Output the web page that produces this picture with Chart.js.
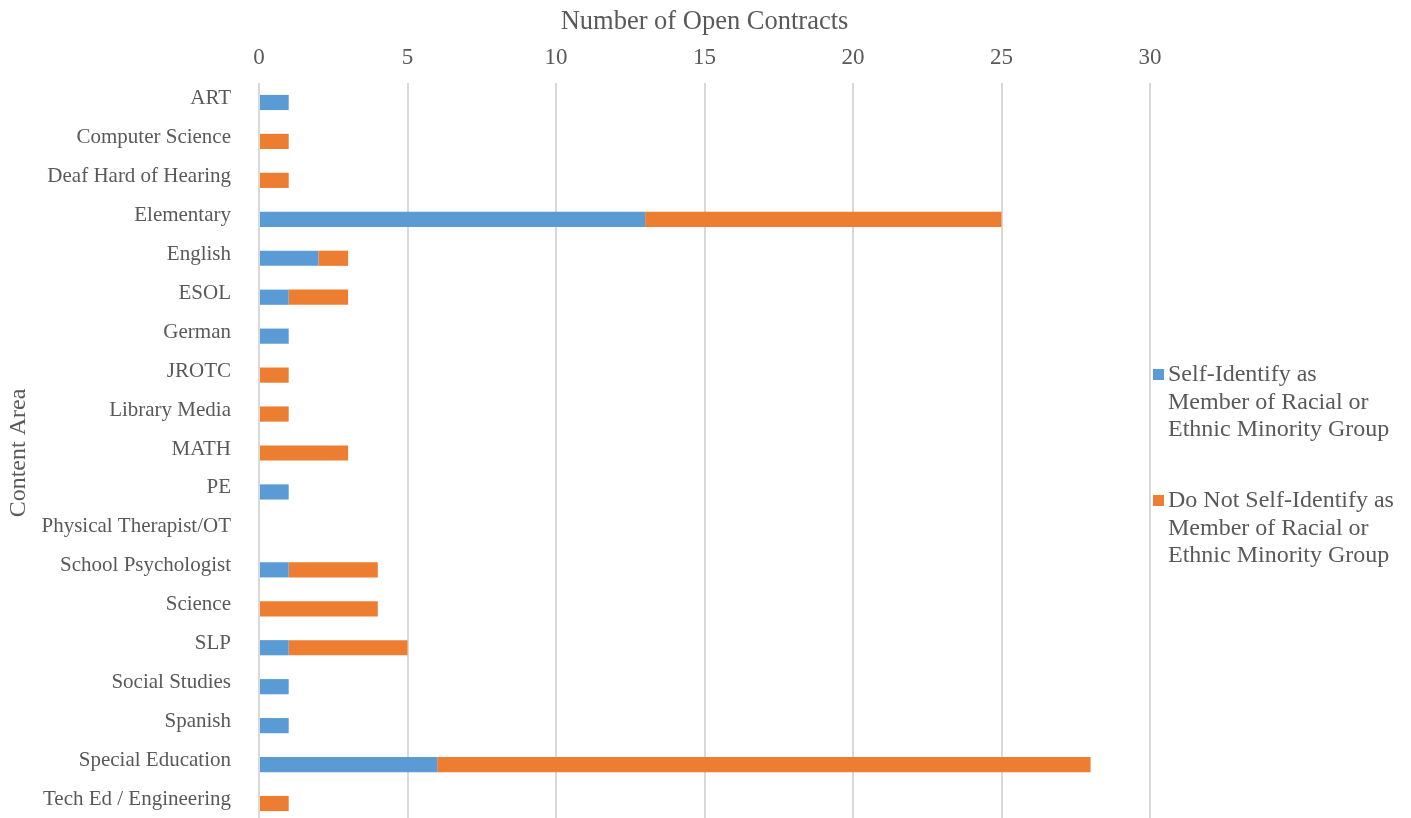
<!DOCTYPE html>
<html>
<head>
<meta charset="utf-8">
<script src="https://cdn.jsdelivr.net/npm/chart.js@4/dist/chart.umd.min.js"></script>
<style>
  html, body { margin: 0; padding: 0; background: #fff; overflow: hidden; }
  #wrap { position: relative; width: 1411px; height: 823px; }
</style>
</head>
<body>
<div id="wrap"><canvas id="barChart"></canvas></div>
<script>
const areas = ['ART', 'Computer Science', 'Deaf Hard of Hearing', 'Elementary', 'English', 'ESOL',
  'German', 'JROTC', 'Library Media', 'MATH', 'PE', 'Physical Therapist/OT', 'School Psychologist',
  'Science', 'SLP', 'Social Studies', 'Spanish', 'Special Education', 'Tech Ed / Engineering'];
const minorityCounts = [1, 0, 0, 13, 2, 1, 1, 0, 0, 0, 1, 0, 1, 0, 1, 1, 1, 6, 0];
const otherCounts    = [0, 1, 1, 12, 1, 2, 0, 1, 1, 3, 0, 0, 3, 4, 4, 0, 0, 22, 1];
const seriesNames = [
  ['Self-Identify as', 'Member of Racial or', 'Ethnic Minority Group'],
  ['Do Not Self-Identify as', 'Member of Racial or', 'Ethnic Minority Group']
];
const xTicks = [0, 5, 10, 15, 20, 25, 30];

const BLUE = '#5B9BD5';
const ORANGE = '#ED7D31';
const TEXT = '#595959';
const FONT = "'Liberation Serif', 'Times New Roman', serif";

// side legend with wrapped labels
const sideLegend = {
  id: 'sideLegend',
  afterDraw(chart) {
    const ctx = chart.ctx;
    const colors = [BLUE, ORANGE];
    const tops = [375, 501];
    ctx.save();
    ctx.font = '24px ' + FONT;
    ctx.textBaseline = 'middle';
    ctx.textAlign = 'left';
    seriesNames.forEach((lines, i) => {
      ctx.fillStyle = colors[i];
      ctx.fillRect(1153, tops[i] - 6, 11, 11);
      ctx.fillStyle = TEXT;
      lines.forEach((line, j) => ctx.fillText(line, 1168, tops[i] + j * 27.5));
    });
    ctx.restore();
  }
};

const ctx1 = document.getElementById('barChart').getContext('2d');
const myChart1 = new Chart(ctx1, {
  type: 'bar',
  data: {
    labels: areas,
    datasets: [{
      label: seriesNames[0].join(' '),
      data: minorityCounts,
      backgroundColor: BLUE,
      barPercentage: 0.39,
      categoryPercentage: 1
    }, {
      label: seriesNames[1].join(' '),
      data: otherCounts,
      backgroundColor: ORANGE,
      barPercentage: 0.39,
      categoryPercentage: 1
    }]
  },
  options: {
    indexAxis: 'y',
    responsive: true,
    maintainAspectRatio: false,
    animation: false,
    layout: { padding: { left: 0, top: 0, right: 261, bottom: 0 } },
    plugins: {
      legend: { display: false },
      tooltip: { enabled: false }
    },
    scales: {
      x: {
        position: 'top',
        stacked: true,
        min: 0,
        max: 30,
        afterBuildTicks: (scale) => { scale.ticks = xTicks.map(v => ({ value: v })); },
        afterFit: (scale) => { scale.height = 83; },
        grid: { color: '#D9D9D9', lineWidth: 2, drawTicks: false },
        border: { display: false },
        ticks: { color: TEXT, font: { family: FONT, size: 23 }, padding: 11 },
        title: {
          display: true,
          text: 'Number of Open Contracts',
          color: TEXT,
          font: { family: FONT, size: 26.5 },
          padding: { top: 6, bottom: 0 }
        }
      },
      y: {
        stacked: true,
        // tick padding would otherwise reserve space below the last category
        afterFit: (scale) => {
          scale.width = 259;
          scale.paddingTop = 0;
          scale.paddingBottom = 0;
        },
        grid: { display: false, drawTicks: false },
        border: { display: false },
        ticks: { color: TEXT, font: { family: FONT, size: 21 }, padding: 28, labelOffset: -4 },
        title: {
          display: true,
          text: 'Content Area',
          color: TEXT,
          font: { family: FONT, size: 24 },
          padding: { top: 4, bottom: 0 }
        }
      }
    }
  },
  plugins: [sideLegend]
});
</script>
</body>
</html>
